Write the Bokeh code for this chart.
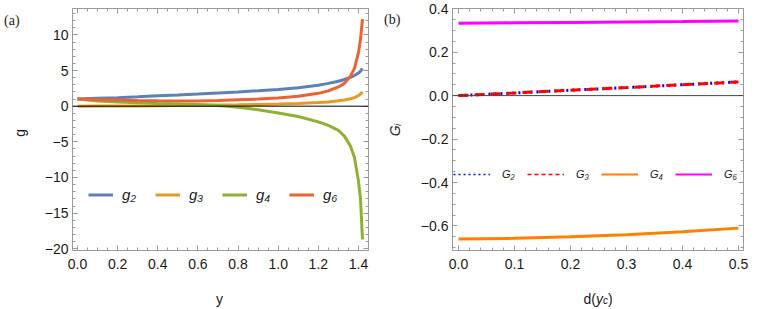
import math
from bokeh.plotting import figure
from bokeh.models import (LinearAxis, Legend, LegendItem, Span, Label, Range1d,
                          FixedTicker, CustomJSTickFormatter)
from bokeh.layouts import row
from bokeh.embed import file_html
from bokeh.resources import INLINE

# ---------------- data: panel (a) ----------------
y_vals = [0.0, 0.1, 0.2, 0.3, 0.4, 0.5, 0.6, 0.7, 0.8, 0.9, 1.0, 1.1, 1.2,
          1.25, 1.3, 1.33, 1.36, 1.38, 1.40, 1.41, 1.42]
g2 = [1.0, 1.1, 1.2, 1.32, 1.45, 1.57, 1.7, 1.85, 2.0, 2.17, 2.35, 2.6, 2.95,
      3.2, 3.5, 3.75, 4.05, 4.3, 4.65, 4.9, 5.3]
g3 = [0.0, 0.01, 0.02, 0.04, 0.06, 0.09, 0.12, 0.16, 0.2, 0.25, 0.3, 0.38, 0.5,
      0.6, 0.75, 0.88, 1.05, 1.2, 1.5, 1.7, 2.0]
g4 = [1.0, 0.72, 0.58, 0.47, 0.39, 0.32, 0.24, 0.1, -0.15, -0.5, -0.95,
      -1.45, -2.2, -2.7, -3.4, -4.2, -5.6, -7.2, -10.5, -12.9, -18.7]
g6 = [1.0, 0.93, 0.86, 0.8, 0.76, 0.74, 0.74, 0.8, 0.9, 1.0, 1.15, 1.4, 1.8,
      2.15, 2.7, 3.2, 4.2, 5.3, 7.5, 9.3, 12.2]
a_names = ["g\u2082", "g\u2083", "g\u2084", "g\u2086"]
a_colors = ["#5E81B5", "#E19C24", "#8FB032", "#EB6235"]
a_xticks = [0.0, 0.2, 0.4, 0.6, 0.8, 1.0, 1.2, 1.4]
a_xlabels = ["0.0", "0.2", "0.4", "0.6", "0.8", "1.0", "1.2", "1.4"]
a_yticks = [-20, -15, -10, -5, 0, 5, 10]
a_ylabels = ["\u221220", "\u221215", "\u221210", "\u22125", "0", "5", "10"]

# ---------------- data: panel (b) ----------------
d_vals = [0.0, 0.1, 0.2, 0.3, 0.4, 0.5]
G2 = [0.0, 0.012, 0.025, 0.037, 0.05, 0.063]
G3 = [0.0, 0.012, 0.025, 0.037, 0.05, 0.063]
G4 = [-0.66, -0.657, -0.65, -0.64, -0.627, -0.61]
G6 = [0.333, 0.335, 0.337, 0.339, 0.341, 0.344]
b_names = ["G\u2082", "G\u2083", "G\u2084", "G\u2086"]
b_colors = ["#0000FF", "#FF0000", "#FF8000", "#FF00FF"]
b_xticks = [0.0, 0.1, 0.2, 0.3, 0.4, 0.5]
b_xlabels = ["0.0", "0.1", "0.2", "0.3", "0.4", "0.5"]
b_yticks = [-0.6, -0.4, -0.2, 0.0, 0.2, 0.4]
b_ylabels = ["\u22120.6", "\u22120.4", "\u22120.2", "0.0", "0.2", "0.4"]

FONT = "Liberation Sans"
SERIF = "Liberation Serif"
FRAME = "#9a9a9a"
TXT = "#1a1a1a"


def style_axis(ax, show_labels, major, minor):
    ax.axis_line_color = None
    ax.major_tick_line_color = FRAME
    ax.minor_tick_line_color = FRAME
    ax.major_tick_in = 5
    ax.major_tick_out = 0
    ax.minor_tick_in = 3
    ax.minor_tick_out = 0
    ax.ticker = FixedTicker(ticks=major, minor_ticks=minor)
    if show_labels:
        ax.major_label_text_font = FONT
        ax.major_label_text_font_size = "14px"
        ax.major_label_text_color = TXT
    else:
        ax.formatter = CustomJSTickFormatter(code="return ''")
        ax.major_label_standoff = 0


def frac_range(a, b, step):
    n = int(round((b - a) / step))
    return [round(a + i * step, 6) for i in range(n + 1)]


def side_label(p, side, **kw):
    base = dict(text_font=FONT, text_font_size="14px", text_color=TXT,
                text_baseline="alphabetic")
    base.update(kw)
    p.add_layout(Label(**base), side)


# ================= panel (a) =================
p1 = figure(width=380, height=308, output_backend="svg", toolbar_location=None,
            x_range=Range1d(-0.025, 1.450), y_range=Range1d(-20.24, 13.7),
            min_border_left=72, min_border_right=12, min_border_top=7,
            min_border_bottom=56)
p1.grid.visible = False
p1.outline_line_color = FRAME

a_xminor = frac_range(-0.05, 1.45, 0.05)
a_yminor = frac_range(-20, 13, 1)
style_axis(p1.xaxis[0], True, a_xticks, a_xminor)
style_axis(p1.yaxis[0], True, a_yticks, a_yminor)
p1.xaxis[0].major_label_overrides = dict(zip(a_xticks, a_xlabels))
p1.yaxis[0].major_label_overrides = dict(zip(a_yticks, a_ylabels))
p1.xaxis[0].major_label_standoff = 8
p1.yaxis[0].major_label_standoff = 4

ax_r = LinearAxis()
style_axis(ax_r, False, a_yticks, a_yminor)
p1.add_layout(ax_r, "right")
ax_t = LinearAxis()
style_axis(ax_t, False, a_xticks, a_xminor)
p1.add_layout(ax_t, "above")

p1.add_layout(Span(location=0, dimension="width", line_color="black",
                   line_width=1))

a_series = [g2, g3, g4, g6]
a_renderers = []
for vals, col in zip(a_series, a_colors):
    r = p1.line(y_vals, vals, line_color=col, line_width=3)
    a_renderers.append(r)

leg1 = Legend(items=[LegendItem(label=n, renderers=[r])
                     for n, r in zip(a_names, a_renderers)],
              orientation="horizontal", location=(16, 47),
              border_line_color=None, background_fill_alpha=0,
              glyph_width=25, glyph_height=15, label_standoff=9, spacing=13,
              padding=0, margin=0, label_text_font=FONT,
              label_text_font_style="italic", label_text_font_size="15px",
              label_text_color=TXT)
p1.add_layout(leg1)

# texts outside the frame (placed in side panels so they are not clipped)
side_label(p1, "left", x=-0.289, y=-3.75, text="g", angle=math.pi / 2,
           text_align="center", text_baseline="middle")
side_label(p1, "left", x=-0.366, y=12.04, text="(a)", text_font=SERIF,
           text_font_size="14px")
side_label(p1, "below", x=0.7075, y=-27.0, text="y", text_align="center")

# ================= panel (b) =================
p2 = figure(width=382, height=308, output_backend="svg", toolbar_location=None,
            x_range=Range1d(-0.0107, 0.509), y_range=Range1d(-0.713, 0.401),
            min_border_left=72, min_border_right=19, min_border_top=8,
            min_border_bottom=58)
p2.grid.visible = False
p2.outline_line_color = FRAME

b_xminor = frac_range(-0.02, 0.52, 0.02)
b_yminor = frac_range(-0.75, 0.4, 0.05)
style_axis(p2.xaxis[0], True, b_xticks, b_xminor)
style_axis(p2.yaxis[0], True, b_yticks, b_yminor)
p2.xaxis[0].major_label_overrides = dict(zip(b_xticks, b_xlabels))
p2.yaxis[0].major_label_overrides = dict(zip(b_yticks, b_ylabels))
p2.xaxis[0].major_label_standoff = 8
p2.yaxis[0].major_label_standoff = 4

ax_r2 = LinearAxis()
style_axis(ax_r2, False, b_yticks, b_yminor)
p2.add_layout(ax_r2, "right")
ax_t2 = LinearAxis()
style_axis(ax_t2, False, b_xticks, b_xminor)
p2.add_layout(ax_t2, "above")

p2.add_layout(Span(location=0, dimension="width", line_color="#444444",
                   line_width=1))

r_g6 = p2.line(d_vals, G6, line_color=b_colors[3], line_width=3)
r_g4 = p2.line(d_vals, G4, line_color=b_colors[2], line_width=3)
r_g2 = p2.line(d_vals, G2, line_color=b_colors[0], line_width=3,
               line_dash="2 4")
r_g3 = p2.line(d_vals, G3, line_color=b_colors[1], line_width=3,
               line_dash="10 6")

# thin, undrawn copies of the same series used only as legend swatches
leg_styles = [("2 3", 1.5), ("4 3", 1.5), ("solid", 1.8), ("solid", 1.8)]
b_series = [G2, G3, G4, G6]
b_proxies = []
for vals, col, (dash, w) in zip(b_series, b_colors, leg_styles):
    rp = p2.line(d_vals, vals, line_color=col, line_width=w, line_dash=dash,
                 visible=False)
    b_proxies.append(rp)

leg2 = Legend(items=[LegendItem(label=n, renderers=[r])
                     for n, r in zip(b_names, b_proxies)],
              orientation="horizontal", location=(1, 70),
              border_line_color=None, background_fill_alpha=0,
              inactive_fill_alpha=0,
              glyph_width=37, glyph_height=12, label_standoff=12, spacing=5,
              padding=0, margin=0, label_text_font=FONT,
              label_text_font_style="italic", label_text_font_size="11px",
              label_text_color=TXT)
p2.add_layout(leg2)

side_label(p2, "left", x=-0.1125, y=-0.1584, text="G\u1d62",
           text_font_style="italic", angle=math.pi / 2,
           text_align="center", text_baseline="middle")
side_label(p2, "left", x=-0.133, y=0.3504, text="(b)", text_font=SERIF,
           text_font_size="14px")
# x-axis title d(y_c), built from pieces
xl_y = -0.9355
side_label(p2, "below", x=0.2232, y=xl_y, text="d(")
side_label(p2, "below", x=0.2668, y=xl_y, text=")")
side_label(p2, "right", x=0.2454, y=xl_y, text="y", text_font_style="italic")
side_label(p2, "right", x=0.2579, y=xl_y - 0.009, text="c",
           text_font_style="italic", text_font_size="10px")

layout = row(p1, p2)
open("out.html", "w").write(file_html(layout, INLINE))
